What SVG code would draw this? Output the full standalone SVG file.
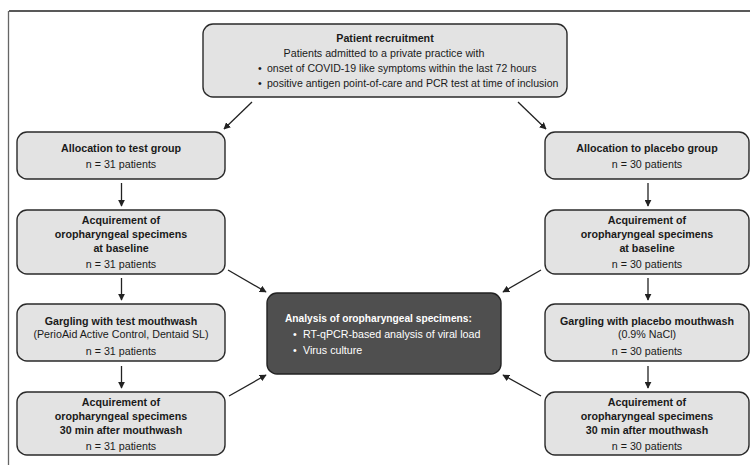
<svg xmlns="http://www.w3.org/2000/svg" width="750" height="465" viewBox="0 0 750 465">
<style>
  text { font-family: "Liberation Sans", Arial, Helvetica, sans-serif; font-size: 10.7px; fill: #1a1a1a; }
  .c { text-anchor: middle; }
  .b { font-weight: bold; }
  .w { fill: #ffffff; }
  .box { fill: #e3e3e3; stroke: #2a2a2a; stroke-width: 1.4; }
  .dark { fill: #4f4f4f; stroke: #222; stroke-width: 1.4; }
  .edge { stroke: #222; stroke-width: 1.3; fill: none; marker-end: url(#ah); }
</style>
<defs>
  <marker id="ah" viewBox="0 0 10 10" refX="9" refY="5" markerWidth="7" markerHeight="7" markerUnits="userSpaceOnUse" orient="auto">
    <path d="M0,0 L10,5 L0,10 z" fill="#222"/>
  </marker>
</defs>
<rect width="750" height="465" fill="#ffffff"/>
<g id="frame">
  <line x1="9" y1="11" x2="750" y2="11" stroke="#222" stroke-width="1.5"/>
  <line x1="8.5" y1="11" x2="8.5" y2="465" stroke="#666" stroke-width="1.3"/>
</g>
<g id="connectors">
  <line class="edge" x1="252" y1="102" x2="224" y2="129"/>
  <line class="edge" x1="518" y1="102" x2="546" y2="129"/>
  <line class="edge" x1="121.5" y1="183" x2="121.5" y2="206"/>
  <line class="edge" x1="121.5" y1="278" x2="121.5" y2="300"/>
  <line class="edge" x1="121.5" y1="366" x2="121.5" y2="388"/>
  <line class="edge" x1="648" y1="183" x2="648" y2="206"/>
  <line class="edge" x1="648" y1="278" x2="648" y2="300"/>
  <line class="edge" x1="648" y1="366" x2="648" y2="388"/>
  <line class="edge" x1="228" y1="270" x2="266" y2="292"/>
  <line class="edge" x1="541" y1="270" x2="503" y2="292"/>
  <line class="edge" x1="229" y1="396" x2="266" y2="375"/>
  <line class="edge" x1="541" y1="396" x2="503" y2="375"/>
</g>
<g id="recruitment">
  <rect class="box" x="203" y="24" width="364" height="73" rx="10"/>
  <text class="c b" x="385" y="42">Patient recruitment</text>
  <text class="c" x="384" y="57">Patients admitted to a private practice with</text>
  <text x="258" y="72">•</text>
  <text x="267" y="72" style="font-size:10.55px">onset of COVID-19 like symptoms within the last 72 hours</text>
  <text x="258" y="87">•</text>
  <text x="267" y="87" style="font-size:10.55px">positive antigen point-of-care and PCR test at time of inclusion</text>
</g>
<g id="alloc-test">
  <rect class="box" x="17" y="132" width="208" height="47" rx="10"/>
  <text class="c b" x="121" y="152">Allocation to test group</text>
  <text class="c" x="121" y="168">n = 31 patients</text>
</g>
<g id="alloc-placebo">
  <rect class="box" x="545" y="132" width="204" height="47" rx="10"/>
  <text class="c b" x="647" y="152">Allocation to placebo group</text>
  <text class="c" x="647" y="168">n = 30 patients</text>
</g>
<g id="baseline-test">
  <rect class="box" x="17" y="210" width="208" height="64" rx="10"/>
  <text class="c b" x="121" y="224">Acquirement of</text>
  <text class="c b" x="121" y="238">oropharyngeal specimens</text>
  <text class="c b" x="121" y="252">at baseline</text>
  <text class="c" x="121" y="268">n = 31 patients</text>
</g>
<g id="baseline-placebo">
  <rect class="box" x="545" y="210" width="204" height="64" rx="10"/>
  <text class="c b" x="647" y="224">Acquirement of</text>
  <text class="c b" x="647" y="238">oropharyngeal specimens</text>
  <text class="c b" x="647" y="252">at baseline</text>
  <text class="c" x="647" y="268">n = 30 patients</text>
</g>
<g id="gargle-test">
  <rect class="box" x="17" y="304" width="208" height="57" rx="10"/>
  <text class="c b" x="121" y="325">Gargling with test mouthwash</text>
  <text class="c" x="121" y="338">(PerioAid Active Control, Dentaid SL)</text>
  <text class="c" x="121" y="355">n = 31 patients</text>
</g>
<g id="gargle-placebo">
  <rect class="box" x="545" y="304" width="204" height="57" rx="10"/>
  <text class="c b" x="647" y="325">Gargling with placebo mouthwash</text>
  <text class="c" x="647" y="338">(0.9% NaCl)</text>
  <text class="c" x="647" y="355">n = 30 patients</text>
</g>
<g id="post-test">
  <rect class="box" x="17" y="392" width="208" height="63" rx="10"/>
  <text class="c b" x="121" y="406">Acquirement of</text>
  <text class="c b" x="121" y="420">oropharyngeal specimens</text>
  <text class="c b" x="121" y="434">30 min after mouthwash</text>
  <text class="c" x="121" y="450">n = 31 patients</text>
</g>
<g id="post-placebo">
  <rect class="box" x="545" y="392" width="204" height="63" rx="10"/>
  <text class="c b" x="647" y="406">Acquirement of</text>
  <text class="c b" x="647" y="420">oropharyngeal specimens</text>
  <text class="c b" x="647" y="434">30 min after mouthwash</text>
  <text class="c" x="647" y="450">n = 30 patients</text>
</g>
<g id="analysis">
  <rect class="dark" x="267" y="293" width="234" height="81" rx="10"/>
  <text class="b w" x="285" y="322" style="font-size:10.2px">Analysis of oropharyngeal specimens:</text>
  <text class="w" x="293" y="338">•</text>
  <text class="w" x="303" y="338">RT-qPCR-based analysis of viral load</text>
  <text class="w" x="293" y="354">•</text>
  <text class="w" x="303" y="354">Virus culture</text>
</g>
</svg>
